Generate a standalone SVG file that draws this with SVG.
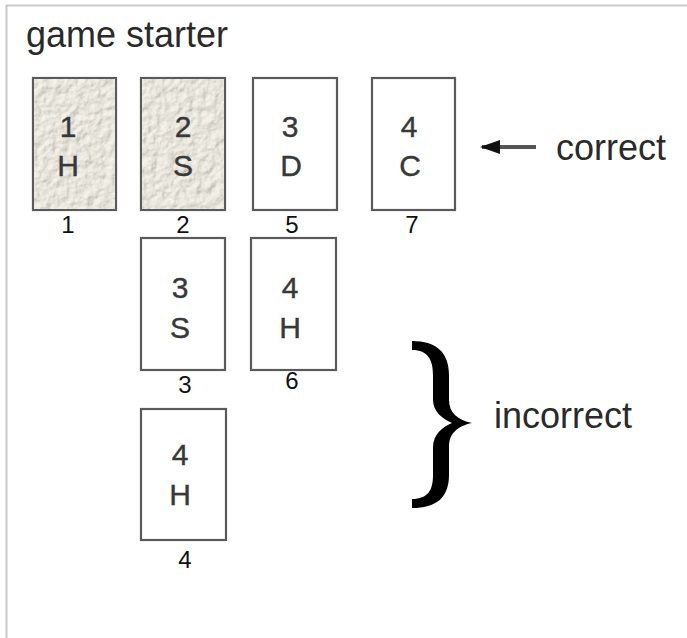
<svg xmlns="http://www.w3.org/2000/svg" width="687" height="638" viewBox="0 0 687 638">
  <style>
    .frame { stroke: #c9c9c9; stroke-width: 2; fill: none; }
    .card { fill: #ffffff; stroke: #5a5a5a; stroke-width: 2.2; }
    .pip { font-family: "Liberation Sans", Arial, sans-serif; font-size: 30px; fill: #383838; stroke: #383838; stroke-width: 0.4; text-anchor: middle; }
    .num { font-family: "Liberation Sans", Arial, sans-serif; font-size: 24px; fill: #111; text-anchor: middle; }
    .label { font-family: "Liberation Sans", Arial, sans-serif; font-size: 36px; fill: #2a2a2a; }
  </style>
  <defs>
    <!-- crumpled beige paper used on the face-down cards -->
    <filter id="crumple" x="0" y="0" width="100%" height="100%">
      <feTurbulence type="fractalNoise" baseFrequency="0.11" numOctaves="3" seed="7" result="noise"/>
      <feDiffuseLighting in="noise" surfaceScale="1.8" lighting-color="#f7f4ea" result="lit">
        <feDistantLight azimuth="225" elevation="60"/>
      </feDiffuseLighting>
      <feComposite in="lit" in2="SourceGraphic" operator="in"/>
    </filter>
    <marker id="head" viewBox="0 0 10 10" refX="9" refY="5" markerWidth="5" markerHeight="3.5" orient="auto" preserveAspectRatio="none">
      <path d="M0,0 L10,5 L0,10 Z" fill="#111"/>
    </marker>
  </defs>

  <rect width="687" height="638" fill="#ffffff"/>
  <path class="frame" d="M6.5,638 V5.5 H687"/>

  <text class="label" x="26" y="47">game starter</text>

  <!-- row 1 -->
  <g id="card-1H">
    <rect class="card" x="33" y="78" width="83" height="132" fill="#ebe8dc"/>
    <rect x="34" y="79" width="81" height="130" fill="#ebe8dc" filter="url(#crumple)"/>
    <text class="pip" x="68" y="137">1</text>
    <text class="pip" x="68" y="176">H</text>
    <text class="num" x="68" y="233">1</text>
  </g>
  <g id="card-2S">
    <rect class="card" x="141" y="78" width="84" height="132" fill="#ebe8dc"/>
    <rect x="142" y="79" width="82" height="130" fill="#ebe8dc" filter="url(#crumple)"/>
    <text class="pip" x="183" y="137">2</text>
    <text class="pip" x="183" y="176">S</text>
    <text class="num" x="183" y="233">2</text>
  </g>
  <g id="card-3D">
    <rect class="card" x="253" y="78" width="84" height="132"/>
    <text class="pip" x="290" y="137">3</text>
    <text class="pip" x="291" y="176">D</text>
    <text class="num" x="292" y="233">5</text>
  </g>
  <g id="card-4C">
    <rect class="card" x="372" y="78" width="83" height="132"/>
    <text class="pip" x="409" y="137">4</text>
    <text class="pip" x="410" y="176">C</text>
    <text class="num" x="412" y="233">7</text>
  </g>

  <!-- row 2 -->
  <g id="card-3S">
    <rect class="card" x="141" y="238" width="84" height="132"/>
    <text class="pip" x="180" y="298">3</text>
    <text class="pip" x="180" y="338">S</text>
    <text class="num" x="185" y="393">3</text>
  </g>
  <g id="card-4H-a">
    <rect class="card" x="251" y="238" width="85" height="132"/>
    <text class="pip" x="290" y="298">4</text>
    <text class="pip" x="290" y="338">H</text>
    <text class="num" x="292" y="389">6</text>
  </g>

  <!-- row 3 -->
  <g id="card-4H-b">
    <rect class="card" x="141" y="409" width="85" height="131"/>
    <text class="pip" x="180" y="465">4</text>
    <text class="pip" x="180" y="505">H</text>
    <text class="num" x="185" y="568">4</text>
  </g>

  <!-- annotations -->
  <g id="connectors">
    <line x1="536" y1="147" x2="482" y2="147" stroke="#555" stroke-width="4" marker-end="url(#head)"/>
    <path d="M412,341 C436,341 449,352 449,375 L449,400 C449,413 458,420 472,423 C458,426 449,433 449,447 L449,475 C449,498 436,508 412,508 L412,499 C428,499 433,490 433,475 L433,447 C433,435 442,427 452,423 C442,419 433,411 433,400 L433,375 C433,360 428,350 412,350 Z" fill="#000"/>
  </g>
  <text class="label" x="556" y="160">correct</text>
  <text class="label" x="494" y="428">incorrect</text>
</svg>
